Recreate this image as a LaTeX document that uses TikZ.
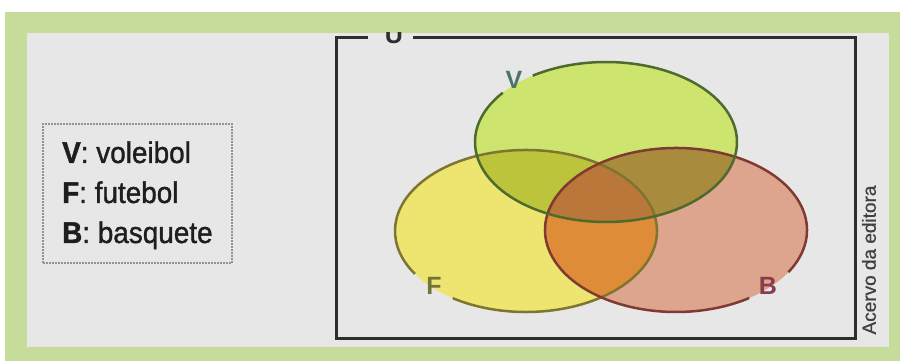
\documentclass[tikz,border=0pt]{standalone}
\usepackage{fontspec}
\setmainfont{Liberation Sans}
\newfontfamily\legfont[FakeBold=1.2, FakeStretch=0.93]{Liberation Sans}
\newfontfamily\credfont[FakeBold=0.8]{Liberation Sans}
\definecolor{pagebg}{HTML}{FFFFFF}
\definecolor{frameg}{HTML}{C5DC9B}
\definecolor{panel}{HTML}{E7E7E7}
\definecolor{Vonly}{HTML}{CDE46F}
\definecolor{Fonly}{HTML}{EEE570}
\definecolor{Bonly}{HTML}{DDA58D}
\definecolor{VFcol}{HTML}{BCC43C}
\definecolor{VBcol}{HTML}{A98B3E}
\definecolor{FBcol}{HTML}{DE8C37}
\definecolor{VFBcol}{HTML}{B9773A}
\definecolor{Vline}{HTML}{4D6B2C}
\definecolor{Fline}{HTML}{7D7530}
\definecolor{Bline}{HTML}{7F3A32}
\definecolor{Vlab}{HTML}{4E7563}
\definecolor{Flab}{HTML}{75733C}
\definecolor{Blab}{HTML}{8B3C4C}
\definecolor{legtext}{HTML}{1E1E1E}
\definecolor{legborder}{HTML}{8C959C}
\definecolor{ubox}{HTML}{2E2E2E}
\tikzset{
  setline/.style={line width=2.5pt},
  setlabel/.style={font=\fontsize{25}{25}\selectfont\bfseries, inner sep=0pt},
  legline/.style={font=\legfont\fontsize{30}{30}\selectfont, text=legtext, anchor=base west, inner sep=0pt},
}
\begin{document}
\begin{tikzpicture}[x=1pt,y=1pt]
\useasboundingbox (0,0) rectangle (900,361);
\fill[pagebg] (0,0) rectangle (900,361);
\fill[frameg] (5,0) rectangle (900,349);
\fill[panel] (27,14) rectangle (889,328);
% ellipse centers
\coordinate (Vc) at (606,219);
\coordinate (Fc) at (526,130);
\coordinate (Bc) at (676,131);
\begin{scope}
\clip (27,14) rectangle (889,328);
% universe box
\coordinate (UL) at (336,323);
\coordinate (UR) at (855,323);
\coordinate (LL) at (336,22);
\coordinate (LR) at (855,22);
\coordinate (G1) at (368,323);
\coordinate (G2) at (413,323);
\draw[ubox, line width=3pt] (G1) -- (UL) -- (LL) -- (LR) -- (UR) -- (G2);
\node[font=\fontsize{25}{25}\selectfont\bfseries, text=ubox, anchor=base, inner sep=0pt] (U) at (394,317) {U};
% fills
\fill[Fonly] (Fc) ellipse[x radius=131, y radius=81];
\fill[Bonly] (Bc) ellipse[x radius=131, y radius=82];
\fill[Vonly] (Vc) ellipse[x radius=131, y radius=80];
\begin{scope}
  \clip (Vc) ellipse[x radius=131, y radius=80];
  \fill[VFcol] (Fc) ellipse[x radius=131, y radius=81];
  \fill[VBcol] (Bc) ellipse[x radius=131, y radius=82];
  \clip (Fc) ellipse[x radius=131, y radius=81];
  \fill[VFBcol] (Bc) ellipse[x radius=131, y radius=82];
\end{scope}
\begin{scope}
  \clip (Fc) ellipse[x radius=131, y radius=81];
  \clip (Bc) ellipse[x radius=131, y radius=82];
  \fill[FBcol] (Fc) ellipse[x radius=131, y radius=81];
  \clip (Vc) ellipse[x radius=131, y radius=80];
  \fill[VFBcol] (Fc) ellipse[x radius=131, y radius=81];
\end{scope}
% outlines with gaps at the labels
\draw[setline, Fline] ([shift={(236:131 and 81)}]Fc) arc[start angle=236, end angle=572, x radius=131, y radius=81];
\draw[setline, Bline] ([shift={(329:131 and 82)}]Bc) arc[start angle=329, end angle=664, x radius=131, y radius=82];
\draw[setline, Vline] ([shift={(142:131 and 80)}]Vc) arc[start angle=142, end angle=484, x radius=131, y radius=80];
% set labels
\node[setlabel, text=Vlab] (Vlabel) at (514,281) {V};
\node[setlabel, text=Flab] (Flabel) at (434,75) {F};
\node[setlabel, text=Blab] (Blabel) at (768,75) {B};
\end{scope}
% legend
\draw[legborder, line width=1.2pt, dash pattern=on 2pt off 1pt] (43,98) rectangle (232,237);
\node[legline] (l1) at (62,198) {\textbf{V}: voleibol};
\node[legline] (l2) at (62,158) {\textbf{F}: futebol};
\node[legline] (l3) at (62,118) {\textbf{B}: basquete};
% credit
\node[rotate=90, font=\credfont\fontsize{19}{19}\selectfont, text=legtext!85, inner sep=0pt] (credit) at (869,101) {Acervo da editora};
\end{tikzpicture}
\end{document}
